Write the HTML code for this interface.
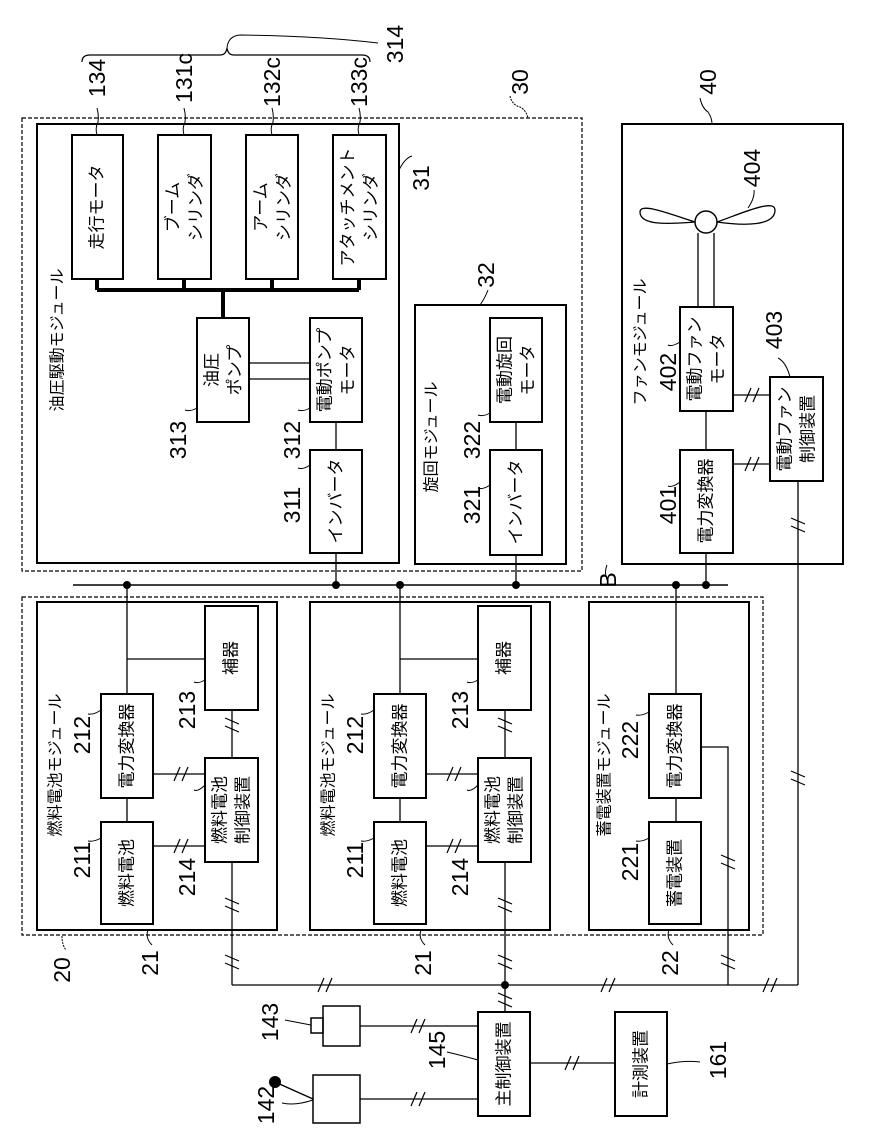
<!DOCTYPE html>
<html><head><meta charset="utf-8"><style>
html,body{margin:0;padding:0;background:#fff}
svg{display:block}
text{font-family:"Liberation Sans","Noto Sans CJK JP",sans-serif;fill:#000}
.b{font-size:17px}
.n{font-size:23px}
.t{font-size:16px}
</style></head><body>
<svg width="874" height="1143" viewBox="0 0 874 1143" xmlns="http://www.w3.org/2000/svg">
<defs>
<g id="ss" stroke="#000" stroke-width="1.2"><line x1="-7" y1="7" x2="-1" y2="-7"/><line x1="1" y1="7" x2="7" y2="-7"/></g>
</defs>
<g fill="none" stroke="#000">
<rect x="22" y="118" width="560" height="453" stroke-dasharray="4,2" stroke-width="1.2"/>
<rect x="37" y="124" width="362" height="439" stroke-width="2"/>
<rect x="72" y="135" width="51" height="144" stroke-width="2"/>
<rect x="158" y="135" width="53" height="144" stroke-width="2"/>
<rect x="246" y="135" width="52" height="144" stroke-width="2"/>
<rect x="333" y="135" width="53" height="144" stroke-width="2"/>
<path d="M97 279V290M184 279V290M272 279V290M359 279V290M97 290H359M223 290V318" stroke-width="4"/>
<rect x="197" y="318" width="52" height="104" stroke-width="2"/>
<rect x="310" y="318" width="52" height="104" stroke-width="2"/>
<path d="M249 363H310M249 379H310" stroke-width="1.3"/>
<rect x="310" y="450" width="52" height="103" stroke-width="2"/>
<path d="M336 422V450M336 553V585" stroke-width="1.3"/>
<rect x="415" y="305" width="151" height="259" stroke-width="2"/>
<rect x="490" y="318" width="52" height="104" stroke-width="2"/>
<rect x="490" y="450" width="52" height="105" stroke-width="2"/>
<path d="M516 422V450M516 555V585" stroke-width="1.3"/>
<rect x="622" y="124" width="221" height="440" stroke-width="2"/>
<circle cx="706" cy="222" r="11" stroke-width="1.5"/>
<path d="M695 222 C670 214,640 202,640 212 C640 226,670 224,695 222Z" stroke-width="1.3"/>
<path d="M717 222 C740 214,775 198,775 210 C775 226,745 226,717 222Z" stroke-width="1.3"/>
<path d="M698 233V307M714 233V307" stroke-width="1.3"/>
<rect x="680" y="307" width="53" height="104" stroke-width="2"/>
<rect x="680" y="450" width="53" height="103" stroke-width="2"/>
<rect x="770" y="377" width="53" height="104" stroke-width="2"/>
<path d="M706 411V450M706 553V585M733 395H770M733 464H770M798 481V985" stroke-width="1.3"/>
<path d="M73 585H728" stroke-width="1.5"/>
<rect x="22" y="597" width="741" height="338" stroke-dasharray="4,2" stroke-width="1.2"/>
<rect x="37" y="602" width="240" height="328" stroke-width="2"/>
<rect x="310" y="602" width="240" height="328" stroke-width="2"/>
<rect x="589" y="602" width="160" height="328" stroke-width="2"/>
<rect x="101" y="694" width="52" height="104" stroke-width="2"/>
<rect x="101" y="822" width="52" height="102" stroke-width="2"/>
<rect x="205" y="606" width="53" height="104" stroke-width="2"/>
<rect x="205" y="758" width="53" height="104" stroke-width="2"/>
<path d="M127 585V694M127 798V822M127 659H205M153 774H205M153 846H205M232 710V758M232 862V985" stroke-width="1.3"/>
<rect x="374" y="694" width="52" height="104" stroke-width="2"/>
<rect x="374" y="822" width="52" height="102" stroke-width="2"/>
<rect x="478" y="606" width="53" height="104" stroke-width="2"/>
<rect x="478" y="758" width="53" height="104" stroke-width="2"/>
<path d="M400 585V694M400 798V822M400 659H478M426 774H478M426 846H478M505 710V758M505 862V1012" stroke-width="1.3"/>
<rect x="649" y="694" width="52" height="104" stroke-width="2"/>
<rect x="649" y="822" width="52" height="102" stroke-width="2"/>
<path d="M676 585V694M676 798V822M701 747H728V985" stroke-width="1.3"/>
<path d="M232 985H798" stroke-width="1.3"/>
<rect x="478" y="1012" width="52" height="104" stroke-width="2"/>
<rect x="615" y="1012" width="52" height="104" stroke-width="2"/>
<path d="M530 1063H615M360 1026H478M360 1099H478" stroke-width="1.3"/>
<rect x="323" y="1006" width="37" height="40" stroke-width="1.5"/>
<rect x="311" y="1018" width="12" height="15" stroke-width="1.5"/>
<rect x="313" y="1075" width="47" height="48" stroke-width="1.5"/>
<path d="M275 1082L313 1099" stroke-width="1.5"/>
<path d="M82 62 Q82 55 90 55 H220 Q226 55 227 48 Q228 55 234 55 H362 Q370 55 370 62" stroke-width="1.2"/>
<path d="M227 48 Q228 36 240 35 Q320 36 378 43" stroke-width="1"/>
<path d="M97 135 Q95 128 98 122 Q99 115 97 108M184 135 Q182 128 185 122 Q186 115 184 108M272 135 Q270 128 273 122 Q274 115 272 108M359 135 Q357 128 360 122 Q361 115 359 108" stroke-width="1"/>
<path d="M399 170 Q405 158 412 156" stroke-width="1"/>
<path d="M510 96 Q512 105 520 107 Q526 110 528 118" stroke-width="1" stroke-dasharray="2,1"/>
<path d="M700 98 Q702 108 708 112 Q712 118 712 124" stroke-width="1"/>
<path d="M480 305 Q485 298 488 290" stroke-width="1"/>
<path d="M197 408 Q190 412 185 410M310 408 Q303 412 298 410M310 465 Q303 470 298 468M490 413 Q483 417 478 415M490 485 Q483 490 478 488M680 342 Q672 347 668 345M680 482 Q672 488 668 486M790 377 Q786 362 778 358M748 208 Q755 198 754 190" stroke-width="1"/>
<path d="M101 710 Q94 715 88 714M101 838 Q94 842 88 841M205 680 Q198 684 194 682M205 785 Q198 792 194 790M374 710 Q367 715 361 714M374 838 Q367 842 361 841M478 680 Q471 684 467 682M478 785 Q471 792 467 790M649 712 Q642 716 636 715M649 838 Q642 842 636 841" stroke-width="1"/>
<path d="M62 936 Q62 945 66 950" stroke-width="1" stroke-dasharray="2,1"/>
<path d="M148 930 Q145 938 152 945M421 930 Q418 938 425 945M669 930 Q666 938 673 945" stroke-width="1"/>
<path d="M311 1025 Q295 1022 285 1020M313 1100 Q295 1106 282 1103M478 1060 Q460 1055 447 1052M667 1064 Q685 1060 700 1062M607 580 Q604 572 607 565" stroke-width="1"/>
</g>
<g fill="#000">
<circle cx="127" cy="585" r="4"/><circle cx="336" cy="585" r="4"/><circle cx="400" cy="585" r="4"/><circle cx="516" cy="585" r="4"/><circle cx="676" cy="585" r="4"/><circle cx="706" cy="585" r="4"/><circle cx="505" cy="985" r="4"/>
<circle cx="275" cy="1082" r="6"/>
</g>
<use href="#ss" x="181" y="774"/><use href="#ss" x="181" y="846"/>
<use href="#ss" x="454" y="774"/><use href="#ss" x="454" y="846"/>
<use href="#ss" transform="translate(232,725) rotate(90)"/>
<use href="#ss" transform="translate(232,905) rotate(90)"/>
<use href="#ss" transform="translate(232,962) rotate(90)"/>
<use href="#ss" transform="translate(505,725) rotate(90)"/>
<use href="#ss" transform="translate(505,905) rotate(90)"/>
<use href="#ss" transform="translate(505,962) rotate(90)"/>
<use href="#ss" transform="translate(505,1000) rotate(90)"/>
<use href="#ss" transform="translate(728,862) rotate(90)"/>
<use href="#ss" transform="translate(728,962) rotate(90)"/>
<use href="#ss" transform="translate(798,778) rotate(90)"/>
<use href="#ss" x="325" y="985"/><use href="#ss" x="608" y="985"/><use href="#ss" x="770" y="985"/>
<use href="#ss" x="752" y="395"/><use href="#ss" x="752" y="464"/>
<use href="#ss" transform="translate(798,525) rotate(90)"/>
<use href="#ss" x="418" y="1026"/><use href="#ss" x="418" y="1099"/><use href="#ss" x="572" y="1063"/>

<g class="b" text-anchor="middle" dominant-baseline="central">
<text transform="translate(97,207) rotate(-90)">走行モータ</text>
<text transform="translate(173,207) rotate(-90)">ブーム</text>
<text transform="translate(196,207) rotate(-90)">シリンダ</text>
<text transform="translate(261,207) rotate(-90)">アーム</text>
<text transform="translate(284,207) rotate(-90)">シリンダ</text>
<text transform="translate(348,207) rotate(-90)">アタッチメント</text>
<text transform="translate(371,207) rotate(-90)">シリンダ</text>
<text transform="translate(212,370) rotate(-90)">油圧</text>
<text transform="translate(235,370) rotate(-90)">ポンプ</text>
<text transform="translate(325,370) rotate(-90)">電動ポンプ</text>
<text transform="translate(348,370) rotate(-90)">モータ</text>
<text transform="translate(336,501) rotate(-90)">インバータ</text>
<text transform="translate(505,370) rotate(-90)">電動旋回</text>
<text transform="translate(528,370) rotate(-90)">モータ</text>
<text transform="translate(516,502) rotate(-90)">インバータ</text>
<text transform="translate(695,359) rotate(-90)">電動ファン</text>
<text transform="translate(718,359) rotate(-90)">モータ</text>
<text transform="translate(706,501) rotate(-90)">電力変換器</text>
<text transform="translate(785,429) rotate(-90)">電動ファン</text>
<text transform="translate(808,429) rotate(-90)">制御装置</text>
<text transform="translate(127,873) rotate(-90)">燃料電池</text>
<text transform="translate(127,746) rotate(-90)">電力変換器</text>
<text transform="translate(231,658) rotate(-90)">補器</text>
<text transform="translate(220,810) rotate(-90)">燃料電池</text>
<text transform="translate(243,810) rotate(-90)">制御装置</text>
<text transform="translate(400,873) rotate(-90)">燃料電池</text>
<text transform="translate(400,746) rotate(-90)">電力変換器</text>
<text transform="translate(504,658) rotate(-90)">補器</text>
<text transform="translate(493,810) rotate(-90)">燃料電池</text>
<text transform="translate(516,810) rotate(-90)">制御装置</text>
<text transform="translate(675,873) rotate(-90)">蓄電装置</text>
<text transform="translate(675,746) rotate(-90)">電力変換器</text>
<text transform="translate(504,1064) rotate(-90)">主制御装置</text>
<text transform="translate(641,1064) rotate(-90)">計測装置</text>
</g>
<g class="t" text-anchor="middle" dominant-baseline="central">
<text transform="translate(58,340) rotate(-90)">油圧駆動モジュール</text>
<text transform="translate(432,437) rotate(-90)">旋回モジュール</text>
<text transform="translate(641,342) rotate(-90)">ファンモジュール</text>
<text transform="translate(56,765) rotate(-90)">燃料電池モジュール</text>
<text transform="translate(329,765) rotate(-90)">燃料電池モジュール</text>
<text transform="translate(605,765) rotate(-90)">蓄電装置モジュール</text>
</g>
<g class="n" text-anchor="middle" dominant-baseline="central">
<text transform="translate(97,78) rotate(-90)">134</text>
<text transform="translate(184,78) rotate(-90)">131c</text>
<text transform="translate(272,82) rotate(-90)">132c</text>
<text transform="translate(359,82) rotate(-90)">133c</text>
<text transform="translate(395,44) rotate(-90)">314</text>
<text transform="translate(520,82) rotate(-90)">30</text>
<text transform="translate(421,178) rotate(-90)">31</text>
<text transform="translate(486,275) rotate(-90)">32</text>
<text transform="translate(708,82) rotate(-90)">40</text>
<text transform="translate(752,168) rotate(-90)">404</text>
<text transform="translate(774,330) rotate(-90)">403</text>
<text transform="translate(668,372) rotate(-90)">402</text>
<text transform="translate(668,505) rotate(-90)">401</text>
<text transform="translate(178,440) rotate(-90)">313</text>
<text transform="translate(292,440) rotate(-90)">312</text>
<text transform="translate(292,505) rotate(-90)">311</text>
<text transform="translate(472,440) rotate(-90)">322</text>
<text transform="translate(472,505) rotate(-90)">321</text>
<text transform="translate(608,580) rotate(-90)">B</text>
<text transform="translate(82,735) rotate(-90)">212</text>
<text transform="translate(82,860) rotate(-90)">211</text>
<text transform="translate(187,710) rotate(-90)">213</text>
<text transform="translate(187,877) rotate(-90)">214</text>
<text transform="translate(355,735) rotate(-90)">212</text>
<text transform="translate(355,860) rotate(-90)">211</text>
<text transform="translate(460,710) rotate(-90)">213</text>
<text transform="translate(460,877) rotate(-90)">214</text>
<text transform="translate(630,740) rotate(-90)">222</text>
<text transform="translate(630,862) rotate(-90)">221</text>
<text transform="translate(62,970) rotate(-90)">20</text>
<text transform="translate(150,963) rotate(-90)">21</text>
<text transform="translate(423,963) rotate(-90)">21</text>
<text transform="translate(670,963) rotate(-90)">22</text>
<text transform="translate(270,1022) rotate(-90)">143</text>
<text transform="translate(266,1105) rotate(-90)">142</text>
<text transform="translate(437,1050) rotate(-90)">145</text>
<text transform="translate(718,1060) rotate(-90)">161</text>
</g>
</svg>
</body></html>
